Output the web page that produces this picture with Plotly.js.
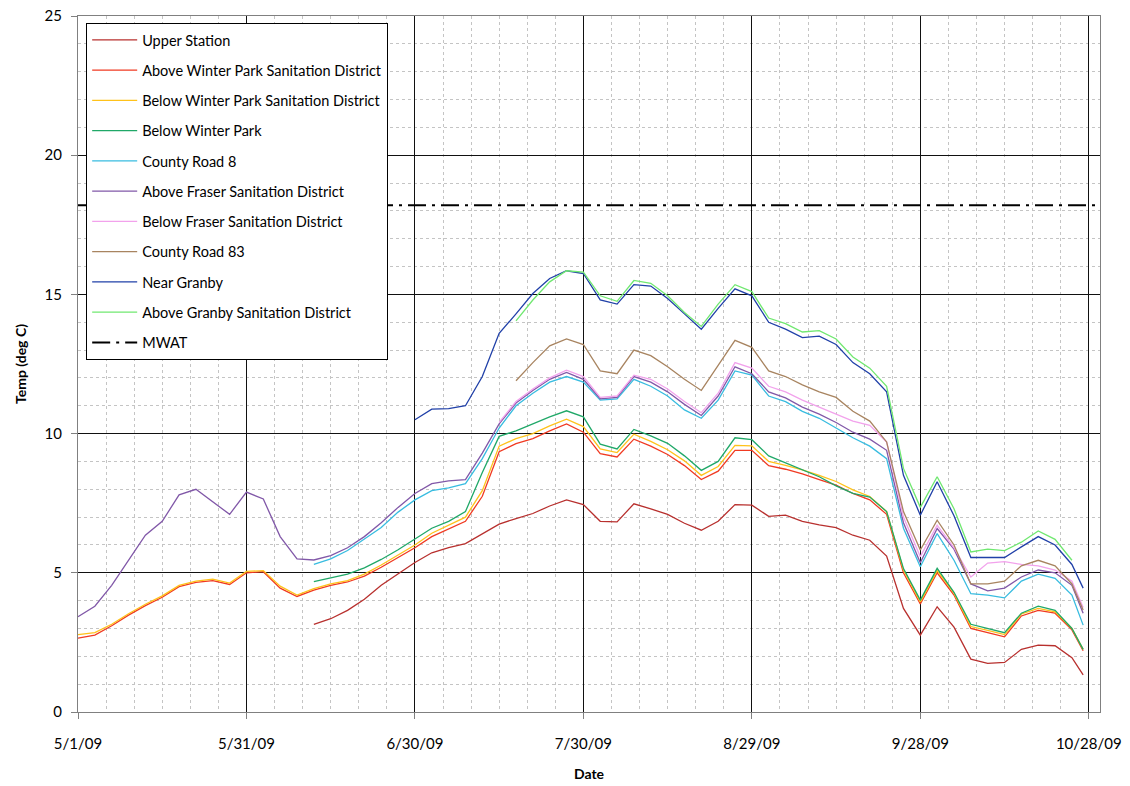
<!DOCTYPE html>
<html>
<head>
<meta charset="utf-8">
<script src="https://cdn.plot.ly/plotly-3.0.1.min.js"></script>
<style>html,body{margin:0;padding:0;background:#fff;}#chart{width:1130px;height:786px;}</style>
</head>
<body>
<div id="chart"></div>
<script>
const dates = ['2009-05-01','2009-05-04','2009-05-07','2009-05-10','2009-05-13','2009-05-16','2009-05-19','2009-05-22','2009-05-25','2009-05-28',
'2009-05-31','2009-06-03','2009-06-06','2009-06-09','2009-06-12','2009-06-15','2009-06-18','2009-06-21','2009-06-24','2009-06-27',
'2009-06-30','2009-07-03','2009-07-06','2009-07-09','2009-07-12','2009-07-15','2009-07-18','2009-07-21','2009-07-24','2009-07-27',
'2009-07-30','2009-08-02','2009-08-05','2009-08-08','2009-08-11','2009-08-14','2009-08-17','2009-08-20','2009-08-23','2009-08-26',
'2009-08-29','2009-09-01','2009-09-04','2009-09-07','2009-09-10','2009-09-13','2009-09-16','2009-09-19','2009-09-22','2009-09-25',
'2009-09-28','2009-10-01','2009-10-04','2009-10-07','2009-10-10','2009-10-13','2009-10-16','2009-10-19','2009-10-22','2009-10-25',
'2009-10-27'];

const upperStation = [null,null,null,null,null,null,null,null,null,null,null,null,null,null,
3.15,3.35,3.65,4.05,4.55,4.97,5.37,5.72,5.9,6.05,6.4,6.75,6.95,7.13,7.4,7.62,7.45,6.85,6.83,7.48,7.3,7.1,6.78,6.53,6.85,7.45,
7.43,7.03,7.07,6.85,6.72,6.62,6.35,6.17,5.6,3.72,2.76,3.78,3.05,1.9,1.75,1.78,2.25,2.4,2.38,1.95,1.33];

const aboveWPSD = [2.65,2.76,3.1,3.48,3.82,4.12,4.5,4.66,4.72,4.58,5.0,5.04,4.45,4.15,4.38,4.55,4.67,4.88,5.2,5.55,
5.9,6.3,6.58,6.85,7.75,9.35,9.64,9.82,10.1,10.35,10.05,9.28,9.16,9.8,9.55,9.25,8.85,8.35,8.65,9.4,
9.4,8.85,8.72,8.55,8.35,8.15,7.85,7.62,7.1,5.0,3.88,5.0,4.2,3.0,2.85,2.7,3.45,3.65,3.55,2.95,2.2];

const belowWPSD = [2.78,2.85,3.15,3.53,3.87,4.17,4.55,4.7,4.77,4.63,5.05,5.08,4.52,4.2,4.43,4.6,4.72,4.95,5.28,5.63,
6.0,6.42,6.7,7.0,7.95,9.55,9.82,10.0,10.28,10.52,10.25,9.45,9.32,9.98,9.72,9.42,9.02,8.5,8.82,9.58,
9.56,9.0,8.86,8.7,8.5,8.28,7.98,7.74,7.2,5.1,3.95,5.08,4.27,3.07,2.93,2.78,3.52,3.72,3.6,3.0,2.25];

const belowWinterPark = [null,null,null,null,null,null,null,null,null,null,null,null,null,null,
4.68,4.82,4.95,5.18,5.48,5.83,6.2,6.6,6.85,7.2,8.6,9.9,10.1,10.36,10.6,10.82,10.6,9.62,9.45,10.15,9.92,9.65,9.2,8.68,9.0,9.85,
9.78,9.2,8.95,8.68,8.45,8.12,7.85,7.72,7.2,5.15,4.02,5.16,4.3,3.15,3.0,2.85,3.55,3.8,3.65,3.0,2.25];

const countyRoad8 = [null,null,null,null,null,null,null,null,null,null,null,null,null,null,
5.3,5.5,5.8,6.2,6.63,7.18,7.62,7.95,8.05,8.2,9.1,10.2,11.0,11.45,11.85,12.05,11.85,11.2,11.25,11.95,11.7,11.35,10.85,10.55,11.2,12.25,
12.1,11.35,11.15,10.8,10.55,10.2,9.85,9.55,9.1,6.6,5.22,6.41,5.45,4.25,4.2,4.1,4.7,4.95,4.8,4.2,3.12];

const aboveFraserSD = [3.42,3.8,4.55,5.45,6.35,6.85,7.8,8.0,7.55,7.1,7.9,7.65,6.3,5.5,5.46,5.62,5.9,6.3,6.8,7.35,
7.85,8.2,8.3,8.35,9.3,10.35,11.1,11.55,11.95,12.2,11.95,11.25,11.3,12.05,11.85,11.5,11.05,10.65,11.35,12.4,
12.15,11.5,11.28,10.95,10.7,10.4,10.05,9.8,9.4,6.8,5.36,6.59,5.85,4.6,4.35,4.45,4.85,5.1,5.0,4.55,3.55];

const belowFraserSD = [null,null,null,null,null,null,null,null,null,null,null,null,null,null,null,null,null,null,null,null,
null,null,null,null,null,10.4,11.15,11.6,12.0,12.28,12.05,11.3,11.35,12.1,11.95,11.6,11.15,10.75,11.45,12.55,
12.35,11.7,11.5,11.2,10.95,10.7,10.45,10.3,9.7,7.0,5.58,6.71,5.9,4.85,5.35,5.4,5.3,5.25,5.1,4.7,3.75];

const countyRoad83 = [null,null,null,null,null,null,null,null,null,null,null,null,null,null,null,null,null,null,null,null,
null,null,null,null,null,null,11.9,12.55,13.15,13.4,13.2,12.25,12.15,13.0,12.8,12.4,11.95,11.55,12.45,13.35,
13.1,12.25,12.05,11.75,11.5,11.3,10.8,10.45,9.7,7.2,5.82,6.89,6.0,4.6,4.6,4.7,5.25,5.45,5.25,4.6,3.66];

const nearGranby = [null,null,null,null,null,null,null,null,null,null,null,null,null,null,null,null,null,null,null,null,
10.5,10.88,10.9,11.0,12.05,13.6,14.3,15.03,15.57,15.85,15.75,14.8,14.65,15.35,15.3,14.85,14.3,13.75,14.5,15.2,
14.95,14.0,13.75,13.45,13.5,13.2,12.55,12.15,11.5,8.5,7.07,8.27,7.05,5.55,5.55,5.55,5.93,6.3,6.0,5.3,4.45];

const aboveGranbySD = [null,null,null,null,null,null,null,null,null,null,null,null,null,null,null,null,null,null,null,null,
null,null,null,null,null,null,14.05,14.8,15.45,15.85,15.8,14.95,14.75,15.5,15.4,14.95,14.35,13.85,14.65,15.35,
15.1,14.15,13.95,13.65,13.7,13.4,12.75,12.35,11.7,8.75,7.35,8.45,7.3,5.75,5.85,5.8,6.1,6.5,6.2,5.45,null];

const mwatValue = 18.2;
const xRange = ['2009-05-01', '2009-10-30'];
const tickDates = ['2009-05-01','2009-05-31','2009-06-30','2009-07-30','2009-08-29','2009-09-28','2009-10-28'];
const tickLabels = ['5/1/09','5/31/09','6/30/09','7/30/09','8/29/09','9/28/09','10/28/09'];

const seriesNames = ['Upper Station','Above Winter Park Sanitation District','Below Winter Park Sanitation District','Below Winter Park',
'County Road 8','Above Fraser Sanitation District','Below Fraser Sanitation District','County Road 83','Near Granby','Above Granby Sanitation District'];
const seriesValues = [upperStation, aboveWPSD, belowWPSD, belowWinterPark, countyRoad8, aboveFraserSD, belowFraserSD, countyRoad83, nearGranby, aboveGranbySD];
const seriesColors = ['#B8302E','#F03A22','#FFC21A','#20A868','#38BCE0','#8158A8','#F2A2EC','#A88460','#2040A8','#70E870'];

const traces = seriesNames.map((name, i) => ({
  type: 'scatter', mode: 'lines', name: name, x: dates, y: seriesValues[i],
  line: {color: seriesColors[i], width: 1.3}, legendgroup: 'g' + i, connectgaps: false
}));
traces.push({
  type: 'scatter', mode: 'lines', name: 'MWAT', x: xRange, y: [mwatValue, mwatValue],
  line: {color: '#000', width: 2, dash: '18px,6px,3px,6px'}, legendgroup: 'g10'
});

const layout = {
  width: 1130, height: 786,
  margin: {l: 78, r: 30, t: 16, b: 74},
  paper_bgcolor: '#fff', plot_bgcolor: '#fff',
  font: {family: 'Lato, "Open Sans", sans-serif', color: '#000'},
  showlegend: true,
  legend: {
    x: 0.008, y: 0.99, xanchor: 'left', yanchor: 'top',
    bgcolor: '#fff', bordercolor: '#000', borderwidth: 1,
    font: {size: 14.5, family: 'Lato, sans-serif', color: '#000'},
    tracegroupgap: 8.4, itemwidth: 45, traceorder: 'grouped'
  },
  xaxis: {
    type: 'date', range: xRange,
    tickmode: 'array', tickvals: tickDates, ticktext: tickLabels,
    tickfont: {size: 15}, ticks: 'outside', ticklen: 6, tickcolor: '#808080',
    ticklabelstandoff: 12,
    showgrid: true, gridcolor: '#111', gridwidth: 1,
    minor: {tick0: '2009-05-01', dtick: 432000000, showgrid: true, gridcolor: '#c4c4c4', griddash: 'dot', gridwidth: 1, ticks: ''},
    showline: true, linecolor: '#808080', linewidth: 1, mirror: true,
    zeroline: false,
    title: {text: 'Date', font: {size: 14, weight: 'bold'}, standoff: 18},
    automargin: false
  },
  yaxis: {
    range: [0, 25], tickmode: 'linear', tick0: 0, dtick: 5,
    tickfont: {size: 15}, ticks: 'outside', ticklen: 6, tickcolor: '#808080',
    ticklabelstandoff: 6,
    showgrid: true, gridcolor: '#111', gridwidth: 1,
    minor: {dtick: 1, showgrid: true, gridcolor: '#c4c4c4', griddash: 'dot', gridwidth: 1, ticks: ''},
    showline: true, linecolor: '#808080', linewidth: 1, mirror: true,
    zeroline: false,
    title: {text: 'Temp (deg C)', font: {size: 14, weight: 'bold'}, standoff: 14},
    automargin: false
  }
};

Plotly.newPlot('chart', traces, layout, {displayModeBar: false, staticPlot: true});
</script>
</body>
</html>
